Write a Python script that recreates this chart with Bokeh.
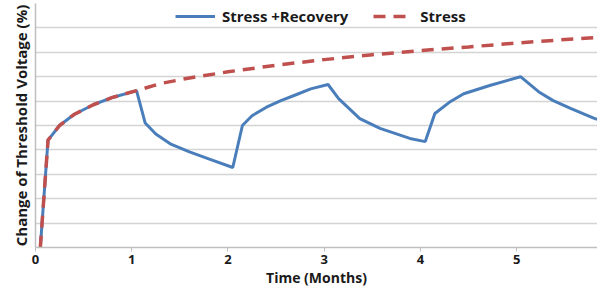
from bokeh.plotting import figure
from bokeh.models import FixedTicker, Legend, LegendItem, Range1d
from bokeh.embed import file_html
from bokeh.resources import INLINE

# Stress + Recovery series (months, % change)
sr_t = [0.05, 0.13, 0.25, 0.40, 0.60, 0.80, 1.05, 1.14, 1.25, 1.40, 1.60, 1.80, 2.05,
        2.15, 2.25, 2.40, 2.55, 2.70, 2.86, 3.04, 3.15, 3.37, 3.58, 3.89, 4.05,
        4.15, 4.30, 4.45, 4.72, 5.04, 5.24, 5.38, 5.56, 5.80, 6.05]
sr_v = [0.0, 4.4, 5.0, 5.45, 5.85, 6.15, 6.43, 5.1, 4.65, 4.25, 3.92, 3.63, 3.28,
        5.0, 5.4, 5.75, 6.02, 6.25, 6.5, 6.68, 6.1, 5.28, 4.88, 4.47, 4.34,
        5.49, 5.95, 6.3, 6.64, 7.0, 6.35, 6.02, 5.7, 5.3, 5.0]

# Stress only series
s_t = [0.05, 0.13, 0.25, 0.40, 0.60, 0.80, 1.05, 1.30, 1.60, 2.0, 2.5, 3.0, 3.5,
       4.0, 4.5, 5.0, 5.5, 6.05]
s_v = [0.0, 4.4, 5.0, 5.45, 5.85, 6.15, 6.43, 6.72, 6.95, 7.2, 7.47, 7.7, 7.9,
       8.07, 8.22, 8.38, 8.52, 8.66]

x_ticks = [0, 1, 2, 3, 4, 5, 6]
y_grid = [1, 2, 3, 4, 5, 6, 7, 8, 9, 10]

FONT = "Open Sans"
TXT = "#1a1a1a"

p = figure(width=597, height=292, output_backend="svg", toolbar_location=None,
           x_range=Range1d(0, 5.84), y_range=Range1d(0, 10),
           min_border_left=35, min_border_right=0, min_border_top=3, min_border_bottom=45)
p.outline_line_color = None

p.xgrid.visible = False
p.ygrid.ticker = FixedTicker(ticks=y_grid)
p.ygrid.grid_line_color = "#d4d4d4"
p.ygrid.grid_line_width = 1.5

p.xaxis.ticker = FixedTicker(ticks=x_ticks)
p.xaxis.axis_line_color = "#bfbfbf"
p.xaxis.axis_line_width = 1.5
p.xaxis.major_tick_line_color = "#bfbfbf"
p.xaxis.major_tick_in = 0
p.xaxis.major_tick_out = 4
p.xaxis.minor_tick_line_color = None
p.xaxis.major_label_text_font = FONT
p.xaxis.major_label_text_font_style = "bold"
p.xaxis.major_label_text_font_size = "13px"
p.xaxis.major_label_text_color = TXT
p.xaxis.major_label_standoff = 3
p.xaxis.axis_label = "Time (Months)"
p.xaxis.axis_label_text_font = FONT
p.xaxis.axis_label_text_font_style = "bold"
p.xaxis.axis_label_text_font_size = "14px"
p.xaxis.axis_label_text_color = TXT
p.xaxis.axis_label_standoff = 1

p.yaxis.ticker = FixedTicker(ticks=[])
p.yaxis.axis_line_color = "#bfbfbf"
p.yaxis.axis_line_width = 1.5
p.yaxis.major_tick_line_color = None
p.yaxis.minor_tick_line_color = None
p.yaxis.axis_label = "Change of Threshold Voltage (%)"
p.yaxis.axis_label_text_font = FONT
p.yaxis.axis_label_text_font_style = "bold"
p.yaxis.axis_label_text_font_size = "15px"
p.yaxis.axis_label_text_color = TXT
p.yaxis.axis_label_standoff = 5

r1 = p.line(sr_t, sr_v, line_color="#4a7ebb", line_width=3)
r2 = p.line(s_t, s_v, line_color="#c0504d", line_width=3.5, line_dash="12 8")

legend = Legend(items=[LegendItem(label="Stress +Recovery", renderers=[r1]),
                       LegendItem(label="Stress", renderers=[r2])],
                orientation="horizontal", location=(140, 221),
                padding=0, margin=0, spacing=25, label_standoff=7,
                glyph_width=40, glyph_height=20,
                background_fill_alpha=0, border_line_color=None,
                label_text_font=FONT, label_text_font_style="bold",
                label_text_font_size="15px", label_text_color=TXT)
p.add_layout(legend, "center")

open("out.html", "w").write(file_html(p, INLINE))
